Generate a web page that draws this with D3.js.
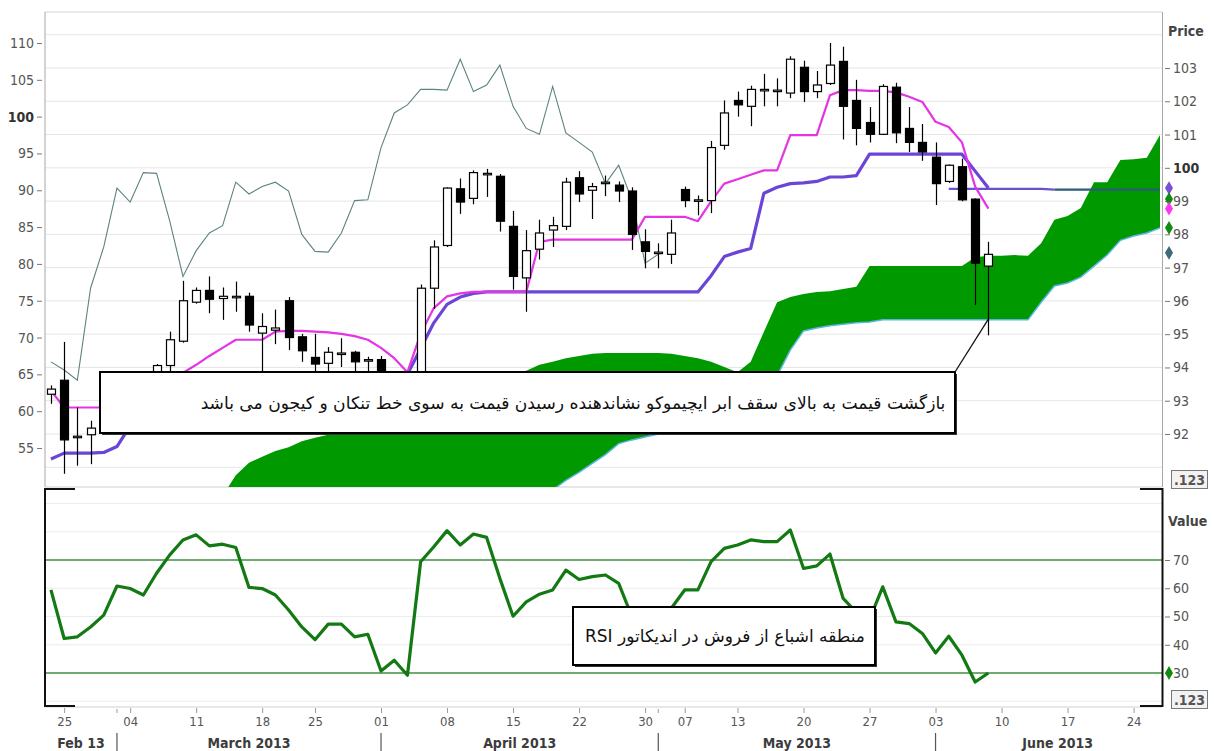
<!DOCTYPE html>
<html><head><meta charset="utf-8">
<script src="https://cdn.jsdelivr.net/npm/d3@7"></script>
<style>body{margin:0;background:#fff;} svg{display:block;}</style>
</head><body>
<svg id="chart" width="1214" height="751"></svg>
<script>
// ---------------- DATA ----------------
// candles, one per trading-day slot 0..71
const candleOpen  = [62.3,64.2,56.4,56.8,58.0,60.5,61.5,63.0,64.0,66.2,69.5,74.8,76.4,75.3,75.5,75.6,70.6,71.0,75.0,70.1,67.3,66.5,67.7,68.0,66.8,67.0,64.0,62.0,64.0,76.7,82.5,90.2,88.9,92.1,91.9,85.1,78.1,82.0,84.6,85.1,91.7,90.0,90.9,90.7,89.9,83.0,81.4,81.3,90.1,88.5,88.6,96.1,102.2,101.4,103.5,103.4,103.2,106.7,103.4,104.5,107.5,102.2,99.2,97.6,104.0,98.4,96.5,94.5,91.2,93.2,88.8,79.7];
const candleHigh  = [63.5,69.4,60.5,58.7,61.0,62.0,63.5,64.5,66.4,70.8,77.7,76.8,78.3,76.8,77.6,76.1,73.3,73.8,75.5,70.5,70.5,68.7,69.9,68.2,67.4,67.5,65.0,64.5,77.2,83.2,90.4,91.6,92.7,92.9,92.2,87.2,84.6,86.0,86.4,91.7,92.6,91.0,92.0,91.2,90.4,84.7,82.8,86.0,90.5,89.3,96.7,102.2,103.4,104.2,105.8,105.2,108.2,107.6,106.2,110.0,109.5,105.0,101.3,104.4,104.6,101.3,99.0,96.5,93.5,94.3,88.9,83.0];
const candleLow   = [61.0,51.5,52.6,52.8,57.5,59.5,60.5,62.0,63.0,65.2,69.3,74.6,73.3,72.4,73.5,70.8,62.0,69.1,68.3,66.7,64.5,65.3,66.0,65.0,65.1,63.5,61.0,60.5,60.5,73.9,82.3,86.8,88.1,89.1,84.4,76.5,73.5,80.6,82.3,84.6,88.4,86.1,89.2,88.4,81.9,79.4,79.4,80.0,87.7,86.6,86.9,95.5,100.0,98.7,101.4,101.4,102.5,102.0,102.5,104.3,96.9,96.1,96.5,97.5,96.4,95.2,94.0,88.0,91.0,88.5,74.4,70.3];
const candleClose = [63.0,56.1,56.6,57.7,60.5,61.5,63.0,64.0,66.2,69.7,75.0,76.4,75.2,75.6,75.6,71.7,71.5,71.3,70.0,68.2,66.4,68.0,67.9,66.7,67.0,64.0,62.0,64.0,76.7,82.3,90.3,88.4,92.4,92.3,85.8,78.3,81.8,84.2,85.2,91.1,89.5,90.5,91.1,89.9,84.0,81.7,81.6,84.2,88.6,88.7,95.8,100.5,101.6,103.7,103.7,103.6,107.8,103.4,104.3,107.0,101.4,98.4,97.6,104.1,97.8,96.5,95.2,90.9,93.4,88.7,80.1,81.3];

// Tenkan-sen (magenta), slots 0..71
const tenkan = [62.8,60.5,60.5,60.5,60.5,61.5,62.5,63.5,64.3,65.0,65.2,66.3,67.5,68.6,69.7,69.7,69.7,70.8,70.9,70.9,70.8,70.7,70.5,70.2,69.7,68.6,67.2,65.3,70.5,74.0,75.6,76.0,76.2,76.2,76.2,76.2,76.2,83.0,83.3,83.3,83.3,83.3,83.3,83.3,83.3,86.4,86.4,86.4,86.4,85.8,88.5,90.9,91.5,92.1,92.7,92.7,97.5,97.5,97.5,102.9,103.6,103.6,103.5,103.5,103.3,102.7,102.0,99.3,98.6,96.5,90.5,87.5];
// Kijun-sen (purple), slots 0..71
const kijun = [53.5,54.3,54.3,54.3,54.4,55.2,58.0,59.0,60.0,60.5,61.5,62.5,62.5,62.5,63.0,63.0,63.0,63.0,63.0,63.0,63.0,63.0,63.0,63.0,63.0,63.5,64.3,65.0,68.5,72.0,74.5,75.5,76.0,76.2,76.2,76.2,76.2,76.2,76.2,76.2,76.2,76.2,76.2,76.2,76.2,76.2,76.2,76.2,76.2,76.2,78.4,81.0,81.6,82.1,89.6,90.4,90.9,91.0,91.2,91.8,91.8,92.0,94.9,94.9,94.9,94.9,94.9,94.9,94.9,94.9,92.6,90.3];
// Chikou span (thin grey line), slots 0..46
const chikou = [66.7,65.6,64.2,76.7,82.3,90.3,88.4,92.4,92.3,85.8,78.3,81.8,84.2,85.2,91.1,89.5,90.5,91.1,89.9,84.0,81.7,81.6,84.2,88.6,88.7,95.8,100.5,101.6,103.7,103.7,103.6,107.8,103.4,104.3,107.0,101.4,98.4,97.6,104.1,97.8,96.5,95.2,90.9,93.4,88.7,80.1,81.3];
// Cloud edges, slots 13..84
const spanStart = 13;
const spanA = [48.5,51.3,53.0,53.8,54.6,55.1,55.9,56.4,56.8,58.1,
  59.1,60.2,61.0,61.8,62.5,63.0,63.4,63.8,64.1,64.5,
  64.8,65.1,65.2,65.5,66.3,66.7,67.2,67.5,67.8,67.9,
  67.9,67.9,67.9,67.9,67.8,67.5,67.2,66.7,66.0,65.3,
  66.7,70.8,74.8,75.5,75.9,76.2,76.3,76.6,76.9,79.7,
  79.7,79.7,79.7,79.7,79.7,79.7,79.7,80.9,81.1,81.1,
  81.2,81.1,82.8,86.0,86.5,87.6,91.1,91.1,94.1,94.2,
  94.4,97.5];
const spanB = [40.0,40.0,40.0,40.0,40.0,40.5,41.0,41.5,42.0,42.5,
  43.0,43.5,44.0,44.5,45.0,45.0,45.0,45.0,45.5,46.0,
  46.5,47.0,47.5,48.0,48.5,49.3,50.6,51.7,52.9,54.1,
  55.6,56.1,56.5,56.9,57.4,58.3,59.1,59.9,60.8,61.8,
  62.9,64.0,64.8,68.3,70.9,71.3,71.6,71.8,72.0,72.1,
  72.4,72.4,72.4,72.4,72.4,72.4,72.4,72.4,72.4,72.4,
  72.4,72.4,74.8,77.0,77.4,78.2,79.7,81.2,83.2,83.8,
  84.2,84.9];
// forward horizontal line, slots 68..84
const projStart = 68;
const projLine = [90.2,90.2,90.2,90.2,90.2,90.2,90.2,90.2,90.1,90.1,90.1,90.1,90.1,90.1,90.1,90.1,90.1];
const projSplit = 8; // index where the colour changes
// RSI, slots 0..71
const rsi = [59.4,42.2,42.8,46.3,50.5,60.8,59.9,57.6,65.3,71.8,
  77.1,78.9,75.0,75.6,74.4,60.3,59.9,57.6,52.3,46.3,
  41.8,47.3,47.3,42.8,43.7,30.7,34.5,29.2,69.4,74.7,
  80.4,75.3,79.2,78.0,63.5,50.1,55.2,57.9,59.4,66.4,
  63.1,64.1,64.7,61.7,50.0,46.0,45.0,53.0,59.4,59.4,
  69.4,74.1,75.3,77.1,76.5,76.5,80.6,67.0,67.9,72.1,
  56.4,51.5,49.0,60.5,48.1,47.5,44.0,37.1,43.0,36.3,
  26.8,30.0];
const rsiLevels = [70, 30];

// axes
const leftTicks  = [110,105,100,95,90,85,80,75,70,65,60,55];
const rightTicks = [103,102,101,100,99,98,97,96,95,94,93,92];
const gridTicks  = [104,103,102,101,100,99,98,97,96,95,94,93,92,91];
const rsiTicks   = [70,60,50,40,30];
const rsiGrid    = [90,80,60,50,40,20];
const dayTickLabels = ["25","04","11","18","25","01","08","15","22","30","07","13","20","27","03","10","17","24"];
const dayTickSlots  = [1,6,11,16,20,25,30,35,40,45,48,52,57,62,67,72,77,82];
const minorTickSlots = [5,46];
const monthNames  = ["Feb 13","March 2013","April 2013","May 2013","June 2013"];
const monthBounds = [-0.45,5,25,46,67,85.5];
const monthSeparators = [5,25,46,67];
// last-value markers on the price axis
const markerValues = [90.3, 88.8, 87.5, 84.9, 81.5];
const markerColors = ["#7a4fd8","#118a11","#ff38f0","#118a11","#3d6a78"];

const note1 = "بازگشت قیمت به بالای سقف ابر ایچیموکو نشاندهنده رسیدن قیمت به سوی خط تنکان و کیجون می باشد";
const note2 = "منطقه اشباع از فروش در اندیکاتور RSI";

// ---------------- DRAWING ----------------
const svg = d3.select('#chart');
const FONT = "'DejaVu Sans Condensed','DejaVu Sans',sans-serif";
const L = 45, R = 1162, PT = 12, PB = 487, RT = 489, RB = 706;

const x = d3.scaleLinear().domain([-0.45, 84]).range([45, 1160]);
const yL = d3.scaleLinear().domain([55, 110]).range([448, 43]);
const yR = d3.scaleLinear().domain([92, 103]).range([434, 68]);
const yRsi = d3.scaleLinear().domain([30, 70]).range([673, 560]);

svg.append('rect').attr('width',1214).attr('height',751).attr('fill','#ffffff');

const defs = svg.append('defs');
defs.append('clipPath').attr('id','clipP').append('rect').attr('x',L).attr('y',PT).attr('width',R-L).attr('height',PB-PT);
defs.append('clipPath').attr('id','clipR').append('rect').attr('x',L).attr('y',RT).attr('width',R-L).attr('height',RB-RT);

// grid lines
svg.append('g').selectAll('line').data(gridTicks).join('line')
  .attr('x1',L).attr('x2',R).attr('y1',d=>yR(d)).attr('y2',d=>yR(d))
  .attr('stroke','#e6e6e6').attr('stroke-width',1);
svg.append('g').selectAll('line').data(rsiGrid).join('line')
  .attr('x1',L).attr('x2',R).attr('y1',d=>yRsi(d)).attr('y2',d=>yRsi(d))
  .attr('stroke','#ececec').attr('stroke-width',1);

// frames
svg.append('line').attr('x1',L).attr('x2',R).attr('y1',PT).attr('y2',PT).attr('stroke','#d4d4d4');
svg.append('line').attr('x1',L).attr('x2',L).attr('y1',PT).attr('y2',PB).attr('stroke','#a8a8a8');
svg.append('line').attr('x1',R+0.5).attr('x2',R+0.5).attr('y1',PT).attr('y2',PB).attr('stroke','#a8a8a8');
svg.append('line').attr('x1',L).attr('x2',R).attr('y1',PB).attr('y2',PB).attr('stroke','#cfcfcf');
svg.append('line').attr('x1',L).attr('x2',R).attr('y1',RB+1).attr('y2',RB+1).attr('stroke','#cfcfcf');

const gP = svg.append('g').attr('clip-path','url(#clipP)');

// cloud
const spanData = spanA.map((a,j)=>({k:spanStart+j, a, b:spanB[j]}));
gP.append('path').datum(spanData)
  .attr('d', d3.area().x(d=>x(d.k)).y0(d=>yL(d.b)).y1(d=>yL(d.a)))
  .attr('fill','#009a00');
gP.append('path').datum(spanData)
  .attr('d', d3.line().x(d=>x(d.k)).y(d=>yL(d.b)))
  .attr('fill','none').attr('stroke','#5ab4e0').attr('stroke-width',1.5);

const line = d3.line().x(d=>x(d.k)).y(d=>yL(d.v));
const toPts = (arr, start) => arr.map((v,j)=>({k:start+j, v}));

// chikou
gP.append('path').datum(toPts(chikou,0)).attr('d',line)
  .attr('fill','none').attr('stroke','#5e8282').attr('stroke-width',1.1);
// forward line
const proj = toPts(projLine, projStart);
gP.append('path').datum(proj.slice(0, projSplit+1)).attr('d',line)
  .attr('fill','none').attr('stroke','#6a52cc').attr('stroke-width',2.2);
gP.append('path').datum(proj.slice(projSplit)).attr('d',line)
  .attr('fill','none').attr('stroke','#2c5a78').attr('stroke-width',2.2);
// kijun
gP.append('path').datum(toPts(kijun,0)).attr('d',line)
  .attr('fill','none').attr('stroke','#6a45d6').attr('stroke-width',3.2).attr('stroke-linejoin','round');
// tenkan
gP.append('path').datum(toPts(tenkan,0)).attr('d',line)
  .attr('fill','none').attr('stroke','#e434e4').attr('stroke-width',2.2).attr('stroke-linejoin','round');

// candles
const candles = candleOpen.map((o,i)=>({i, o, h:candleHigh[i], l:candleLow[i], c:candleClose[i]}));
const cg = gP.append('g').selectAll('g').data(candles).join('g');
cg.append('line').attr('x1',d=>Math.round(x(d.i))+0.5).attr('x2',d=>Math.round(x(d.i))+0.5)
  .attr('y1',d=>yL(d.h)).attr('y2',d=>yL(d.l)).attr('stroke','#000').attr('stroke-width',1.2);
const bw = 8;
cg.append('rect')
  .attr('x',d=>Math.round(x(d.i))+0.5-bw/2)
  .attr('y',d=>yL(Math.max(d.o,d.c)))
  .attr('width',bw)
  .attr('height',d=>Math.max(1.5, Math.abs(yL(d.o)-yL(d.c))))
  .attr('fill',d=>d.c>=d.o?'#ffffff':'#000000')
  .attr('stroke','#000').attr('stroke-width',1.2);

// annotation 1
const b1 = {x0:100, y0:372, x1:955, y1:433};
svg.append('rect').attr('x',b1.x0+2).attr('y',b1.y0+2).attr('width',b1.x1-b1.x0).attr('height',b1.y1-b1.y0).attr('fill','#333');
svg.append('rect').attr('x',b1.x0).attr('y',b1.y0).attr('width',b1.x1-b1.x0).attr('height',b1.y1-b1.y0)
  .attr('fill','#fff').attr('stroke','#000').attr('stroke-width',2);
svg.append('line').attr('x1',b1.x1).attr('y1',b1.y0).attr('x2',x(71)).attr('y2',yL(72.5))
  .attr('stroke','#111').attr('stroke-width',1.3);
const t1 = svg.append('text').attr('x',573).attr('y',409).attr('text-anchor','middle')
  .attr('direction','rtl').attr('font-family',"'DejaVu Sans',sans-serif").attr('font-size',15)
  .attr('fill','#111').text(note1);
{ const len = t1.node().getComputedTextLength(); if (len>0) t1.attr('font-size', 15*745/len); }

// ---------------- RSI PANEL ----------------
const gR = svg.append('g').attr('clip-path','url(#clipR)');
gR.selectAll('line.lvl').data(rsiLevels).join('line').attr('class','lvl')
  .attr('x1',L).attr('x2',R).attr('y1',d=>yRsi(d)).attr('y2',d=>yRsi(d))
  .attr('stroke','#3f8f3f').attr('stroke-width',1.3);
gR.append('path').datum(rsi.map((v,k)=>({k,v})))
  .attr('d', d3.line().x(d=>x(d.k)).y(d=>yRsi(d.v)))
  .attr('fill','none').attr('stroke','#137a13').attr('stroke-width',3.2).attr('stroke-linejoin','round');

const b2 = {x0:573, y0:607, x1:875, y1:665};
svg.append('rect').attr('x',b2.x0+2).attr('y',b2.y0+2).attr('width',b2.x1-b2.x0).attr('height',b2.y1-b2.y0).attr('fill','#333');
svg.append('rect').attr('x',b2.x0).attr('y',b2.y0).attr('width',b2.x1-b2.x0).attr('height',b2.y1-b2.y0)
  .attr('fill','#fff').attr('stroke','#000').attr('stroke-width',2);
const t2 = svg.append('text').attr('x',725).attr('y',642).attr('text-anchor','middle')
  .attr('direction','rtl').attr('font-family',"'DejaVu Sans',sans-serif").attr('font-size',15)
  .attr('fill','#111').text(note2);
{ const len = t2.node().getComputedTextLength(); if (len>0) t2.attr('font-size', 15*280/len); }

// brackets of the RSI panel
svg.append('path').attr('d',`M75,${RT}H${L}V${RB}H75`).attr('fill','none').attr('stroke','#111').attr('stroke-width',2);
svg.append('path').attr('d',`M1140,${RT}H${R+0.5}V${RB}H1140`).attr('fill','none').attr('stroke','#111').attr('stroke-width',2);

// ---------------- AXES ----------------
function styleAxis(g, size){
  g.select('.domain').remove();
  g.selectAll('.tick line').attr('stroke','#777');
  g.selectAll('.tick text').attr('fill','#555').attr('font-family',FONT).attr('font-size',size);
}
const axL = svg.append('g').attr('transform','translate(42,0)')
  .call(d3.axisLeft(yL).tickValues(leftTicks).tickSize(5).tickPadding(3));
styleAxis(axL, 14);
axL.selectAll('.tick text').filter(d=>d===100).attr('font-weight','bold').attr('fill','#333');

const axR = svg.append('g').attr('transform','translate(1165,0)')
  .call(d3.axisRight(yR).tickValues(rightTicks).tickSize(5).tickPadding(3));
styleAxis(axR, 14);
axR.selectAll('.tick text').filter(d=>d===100).attr('font-weight','bold').attr('fill','#333');

const axRsi = svg.append('g').attr('transform','translate(1165,0)')
  .call(d3.axisRight(yRsi).tickValues(rsiTicks).tickSize(5).tickPadding(3));
styleAxis(axRsi, 14);

svg.append('text').attr('x',1168).attr('y',36).attr('font-family',FONT).attr('font-size',14)
  .attr('font-weight','bold').attr('fill','#444').text('Price');
svg.append('text').attr('x',1168).attr('y',526).attr('font-family',FONT).attr('font-size',14)
  .attr('font-weight','bold').attr('fill','#444').text('Value');

// value markers
const diamond = d3.symbol().type(d3.symbolDiamond).size(55);
svg.append('g').selectAll('path').data(markerValues).join('path')
  .attr('transform',d=>`translate(1169,${yL(d)})`).attr('d',diamond)
  .attr('fill',(d,i)=>markerColors[i]);
svg.append('path').attr('transform',`translate(1169,${yRsi(30)})`).attr('d',diamond).attr('fill','#118a11');

// ".123" boxes
[470, 690].forEach(yy=>{
  svg.append('rect').attr('x',1171.5).attr('y',yy+0.5).attr('width',36).attr('height',18)
    .attr('fill','#f2f2f2').attr('stroke','#777');
  svg.append('text').attr('x',1189.5).attr('y',yy+15).attr('text-anchor','middle')
    .attr('font-family',FONT).attr('font-size',14).attr('font-weight','bold').attr('fill','#555').text('.123');
});

// x axis
const axX = svg.append('g').attr('transform',`translate(0,${RB+2})`)
  .call(d3.axisBottom(x).tickValues(dayTickSlots).tickSize(5).tickPadding(4)
    .tickFormat((d,i)=>dayTickLabels[i]));
styleAxis(axX, 13);
axX.selectAll('.tick line').attr('stroke','#999');
svg.append('g').selectAll('line').data(minorTickSlots).join('line')
  .attr('x1',d=>x(d)).attr('x2',d=>x(d)).attr('y1',RB+3).attr('y2',RB+7).attr('stroke','#999');
svg.append('g').selectAll('line').data(monthSeparators).join('line')
  .attr('x1',d=>x(d)).attr('x2',d=>x(d)).attr('y1',733).attr('y2',751).attr('stroke','#555').attr('stroke-width',1.2);
svg.append('g').selectAll('text').data(monthNames).join('text')
  .attr('x',(d,i)=>(x(monthBounds[i])+x(monthBounds[i+1]))/2).attr('y',748)
  .attr('text-anchor','middle').attr('font-family',FONT).attr('font-size',14)
  .attr('font-weight','bold').attr('fill','#3c3c3c').text(d=>d);
</script>
</body></html>
